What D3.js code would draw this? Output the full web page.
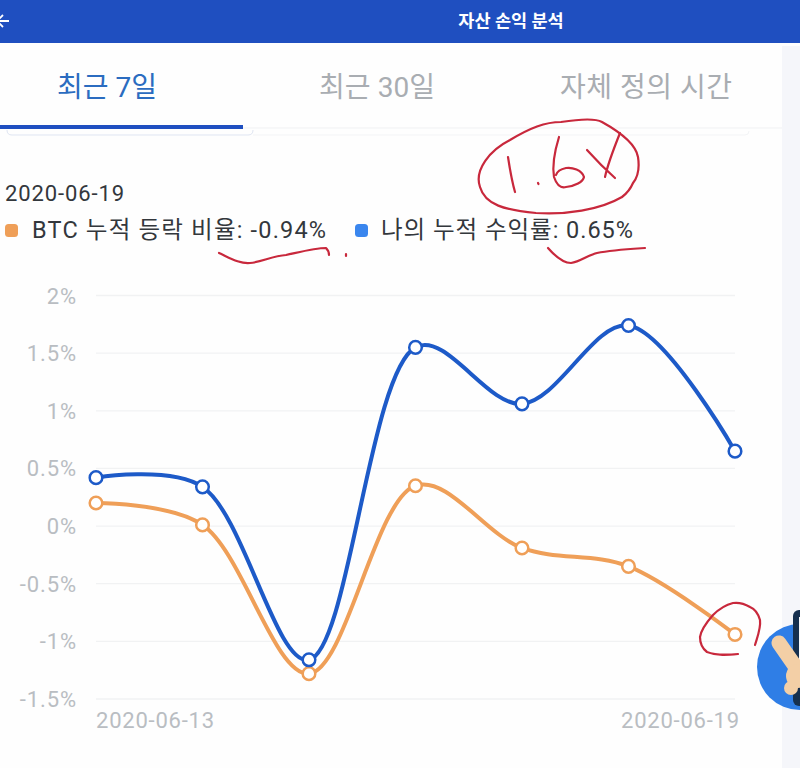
<!DOCTYPE html>
<html><head><meta charset="utf-8">
<script src="https://cdn.jsdelivr.net/npm/d3@7"></script>
<style>html,body{margin:0;padding:0;background:#fff;overflow:hidden}svg{display:block}text{font-family:Roboto,"Noto Sans CJK KR",sans-serif}</style>
</head><body><div id="c"></div>
<script>
const dates = ["2020-06-13","2020-06-14","2020-06-15","2020-06-16","2020-06-17","2020-06-18","2020-06-19"];
const btcValues = [0.20,0.01,-1.28,0.35,-0.19,-0.35,-0.94];
const myValues = [0.42,0.34,-1.16,1.55,1.06,1.74,0.65];
const yTicks = [2,1.5,1,0.5,0,-0.5,-1,-1.5];
const xTickLabels = ["2020-06-13","2020-06-19"];
const tabs = ["최근 7일","최근 30일","자체 정의 시간"];
const titleText = "자산 손익 분석";
const headerDate = "2020-06-19";
const btcLegend = "BTC 누적 등락 비율: -0.94%";
const myLegend = "나의 누적 수익률: 0.65%";
const colors = {btc:"#ef9f58", mine:"#1d5ac8", bar:"#1f4fc0", legendBlue:"#3a86ee", axis:"#b9bdc2", grid:"#f1f2f3", red:"#c8283c"};

const svg = d3.select("#c").append("svg").attr("width",800).attr("height",768);
svg.append("rect").attr("width",800).attr("height",768).attr("fill","#fefefe");
svg.append("rect").attr("x",782).attr("y",46).attr("width",18).attr("height",722).attr("fill","#f5f6fa");

// App header
svg.append("rect").attr("width",800).attr("height",43).attr("fill",colors.bar);
svg.append("path").attr("d","M-2 21H9M3 15L-3 21L3 27").attr("fill","none").attr("stroke","#fff").attr("stroke-width",1.8);
svg.append("text").attr("x",511).attr("y",27).attr("text-anchor","middle").attr("fill","#fff")
  .attr("font-size",17.5).attr("font-weight",700).text(titleText);

// Tabs
const tabX = [107,377,646], tabFill = ["#2b6cc0","#a9adb2","#a9adb2"], tabLen = [100,116,172];
svg.selectAll("text.tab").data(tabs).join("text").attr("class","tab")
  .attr("x",(d,i)=>tabX[i]).attr("y",97).attr("text-anchor","middle")
  .attr("fill",(d,i)=>tabFill[i]).attr("font-size",28).attr("font-weight",400)
  .attr("textLength",(d,i)=>tabLen[i]).text(d=>d);
svg.append("line").attr("x1",0).attr("x2",782).attr("y1",128).attr("y2",128).attr("stroke","#f0f1f3");
svg.append("path").attr("d","M7 130Q7 135 12 135H248Q253 135 253 130").attr("fill","none").attr("stroke","#dfe5f2");
svg.append("path").attr("d","M253 135H745Q749 135 749 131").attr("fill","none").attr("stroke","#f3f4f6");
svg.append("rect").attr("x",0).attr("y",125).attr("width",243).attr("height",4).attr("fill",colors.bar);

// Legend
svg.append("text").attr("x",5).attr("y",201).attr("fill","#33373c").attr("font-size",22).attr("textLength",119).text(headerDate);
svg.append("rect").attr("x",5).attr("y",224).attr("width",13).attr("height",13).attr("rx",3.5).attr("fill",colors.btc);
svg.append("text").attr("x",32).attr("y",238).attr("fill","#33373c").attr("font-size",23.5).attr("textLength",294).text(btcLegend);
svg.append("rect").attr("x",355).attr("y",224).attr("width",13).attr("height",13).attr("rx",3.5).attr("fill",colors.legendBlue);
svg.append("text").attr("x",381).attr("y",238).attr("fill","#33373c").attr("font-size",23.5).attr("textLength",252).text(myLegend);

// Chart
const x = d3.scalePoint().domain(dates).range([96,735]);
const y = d3.scaleLinear().domain([-1.5,2]).range([699,295.5]);
const g = svg.append("g");
g.selectAll("line.grid").data(yTicks).join("line").attr("class","grid")
  .attr("x1",96).attr("x2",735).attr("y1",d=>y(d)).attr("y2",d=>y(d)).attr("stroke",colors.grid).attr("stroke-width",1.3);
g.selectAll("text.yl").data(yTicks).join("text").attr("class","yl")
  .attr("x",77).attr("y",d=>y(d)+8).attr("text-anchor","end").attr("fill",colors.axis).attr("font-size",22)
  .attr("letter-spacing",0.9).text(d=>d+"%");
g.selectAll("text.xl").data(xTickLabels).join("text").attr("class","xl")
  .attr("x",d=>x(d)+(d===xTickLabels[0]?0:-114)).attr("y",728).attr("text-anchor","start")
  .attr("fill",colors.axis).attr("font-size",22).attr("textLength",118).text(d=>d);

const line = d3.line().x((d,i)=>x(dates[i])).y(d=>y(d)).curve(d3.curveCatmullRom.alpha(0.4));
[[btcValues,colors.btc],[myValues,colors.mine]].forEach(([vals,c])=>{
  g.append("path").attr("d",line(vals)).attr("fill","none").attr("stroke",c).attr("stroke-width",4);
  g.selectAll(null).data(vals).join("circle").attr("cx",(d,i)=>x(dates[i])).attr("cy",d=>y(d))
    .attr("r",6.3).attr("fill","#fff").attr("stroke",c).attr("stroke-width",2.5);
});

// Hand-drawn annotations
const notes = [
 "M622 197C600 210 565 215 536 213C505 210 485 205 480 187C474 170 490 150 510 140C530 128 545 122 561 122C580 119 595 118 602 122C620 132 636 145 638 157C640 170 637 178 633 183C630 190 626 194 622 197",
 "M508 157C510 170 512 182 515 192","M538 183L538.5 184",
 "M559 137C555 150 552 165 554 177C557 186 562 188 566 187C575 186 583 182 584 177C582 170 572 167 566 168C561 169 557 172 556 175",
 "M587 150C596 160 606 170 615 178M620 133C614 148 608 163 605 177",
 "M219 253C230 258 240 264 250 263C262 262 272 256 286 255C300 252 315 248 326 248C328 250 329 252 329 255",
 "M346 254L346 256",
 "M548 248C555 256 563 263 571 263C580 262 588 255 597 253C612 250 630 249 645 248",
 "M755 645C758 635 761 628 760 620C758 613 755 609 750 607C745 604 740 602 733 603C725 605 718 610 713 615C706 623 701 630 700 637C700 645 703 649 707 652C717 656 728 655 738 654"];
svg.selectAll("path.note").data(notes).join("path").attr("class","note").attr("d",d=>d)
  .attr("fill","none").attr("stroke",colors.red).attr("stroke-width",2.2).attr("stroke-linecap","round").attr("stroke-linejoin","round");

// Floating avatar
svg.append("circle").attr("cx",800).attr("cy",667).attr("r",43).attr("fill","#2f7ee6");
svg.append("rect").attr("x",793).attr("y",610).attr("width",24).attr("height",96).attr("rx",6).attr("fill","#16304f");
svg.append("rect").attr("x",799).attr("y",617).attr("width",14).attr("height",60).attr("fill","#f7f8fa");
svg.append("line").attr("x1",779).attr("y1",643).attr("x2",795).attr("y2",666).attr("stroke","#f3cfa6").attr("stroke-width",15).attr("stroke-linecap","round");
svg.append("circle").attr("cx",798).attr("cy",676).attr("r",12).attr("fill","#f3cfa6");
svg.append("circle").attr("cx",791).attr("cy",688).attr("r",7).attr("fill","#f3cfa6");
</script></body></html>
